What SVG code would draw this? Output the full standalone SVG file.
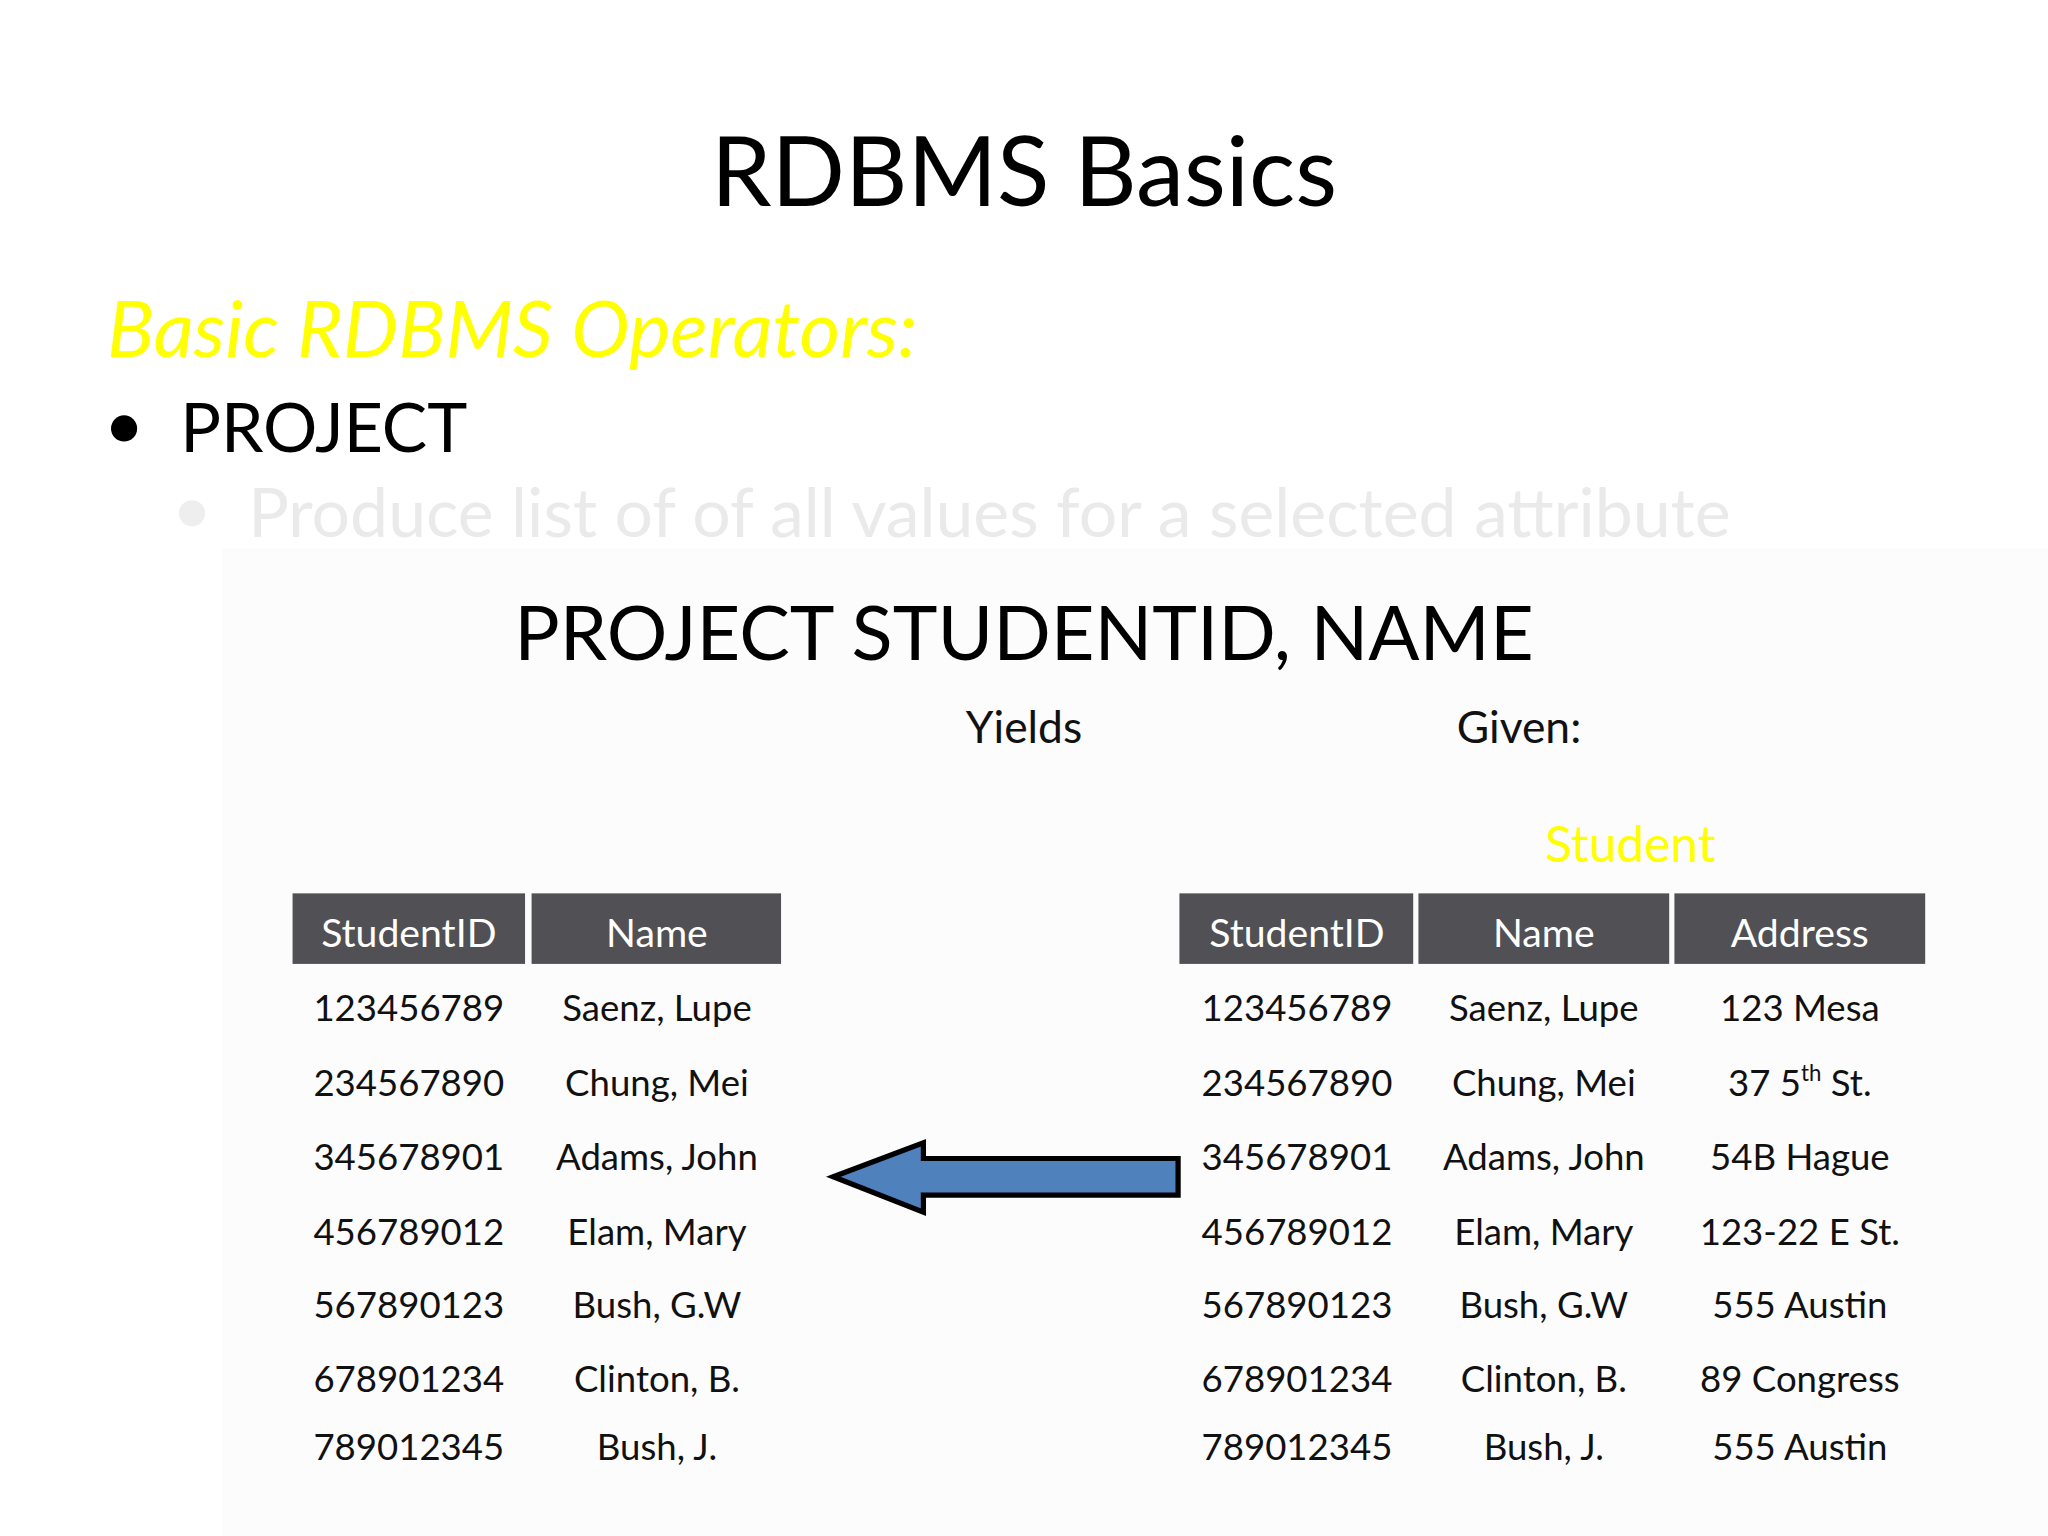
<svg xmlns="http://www.w3.org/2000/svg" width="2048" height="1536" viewBox="0 0 2048 1536">
<style>
text{font-family:Lato,"Open Sans","Liberation Sans",sans-serif}
.h{fill:#ffffff;font-size:30px;text-anchor:middle}
.c{fill:#111;font-size:28px;text-anchor:middle}
.hd{fill:#505055}
</style>
<rect width="2048" height="1536" fill="#fff"/>
<g transform="scale(1.3061)">
<rect x="170" y="420" width="1398" height="756" fill="#fcfcfc"/>
<g id="title"><text x="784" y="158" font-size="74" text-anchor="middle" fill="#000">RDBMS Basics</text></g>
<g id="subtitle"><text x="82" y="273" font-size="60" font-style="italic" fill="#ffff00">Basic RDBMS Operators:</text></g>
<g id="bullet1"><circle cx="95" cy="328" r="10" fill="#000"/><text x="138" y="346" font-size="52" fill="#000">PROJECT</text></g>
<g id="bullet2"><circle cx="147" cy="393" r="10" fill="#eee"/><text x="190" y="411" font-size="52" fill="#eaeaea">Produce list of of all values for a selected attribute</text></g>
<g id="query"><text x="784" y="505" font-size="58" text-anchor="middle" fill="#000">PROJECT STUDENTID, NAME</text></g>
<g id="yields"><text x="784" y="569" font-size="34" text-anchor="middle" fill="#111">Yields</text></g>
<g id="given"><text x="1163" y="569" font-size="34" text-anchor="middle" fill="#111">Given:</text></g>
<g id="student"><text x="1248" y="660" font-size="38" text-anchor="middle" fill="#ffff00">Student</text></g>
<g id="result-table">
<rect class="hd" x="224" y="684" width="178" height="54"/><rect class="hd" x="407" y="684" width="191" height="54"/>
<text class="h" x="313" y="725">StudentID</text><text class="h" x="503" y="725">Name</text>
<g class="c">
<text class="c" x="313" y="782">123456789</text><text class="c" x="503" y="782">Saenz, Lupe</text>
<text class="c" x="313" y="839">234567890</text><text class="c" x="503" y="839">Chung, Mei</text>
<text class="c" x="313" y="896">345678901</text><text class="c" x="503" y="896">Adams, John</text>
<text class="c" x="313" y="953">456789012</text><text class="c" x="503" y="953">Elam, Mary</text>
<text class="c" x="313" y="1009">567890123</text><text class="c" x="503" y="1009">Bush, G.W</text>
<text class="c" x="313" y="1066">678901234</text><text class="c" x="503" y="1066">Clinton, B.</text>
<text class="c" x="313" y="1118">789012345</text><text class="c" x="503" y="1118">Bush, J.</text>
</g></g>
<g id="student-table">
<rect class="hd" x="903" y="684" width="179" height="54"/><rect class="hd" x="1086" y="684" width="192" height="54"/><rect class="hd" x="1282" y="684" width="192" height="54"/>
<text class="h" x="993" y="725">StudentID</text><text class="h" x="1182" y="725">Name</text><text class="h" x="1378" y="725">Address</text>
<text class="c" x="993" y="782">123456789</text><text class="c" x="1182" y="782">Saenz, Lupe</text><text class="c" x="1378" y="782">123 Mesa</text>
<text class="c" x="993" y="839">234567890</text><text class="c" x="1182" y="839">Chung, Mei</text><text class="c" x="1378" y="839">37 5<tspan font-size="17" dy="-11">th</tspan><tspan dy="11"> St.</tspan></text>
<text class="c" x="993" y="896">345678901</text><text class="c" x="1182" y="896">Adams, John</text><text class="c" x="1378" y="896">54B Hague</text>
<text class="c" x="993" y="953">456789012</text><text class="c" x="1182" y="953">Elam, Mary</text><text class="c" x="1378" y="953">123-22 E St.</text>
<text class="c" x="993" y="1009">567890123</text><text class="c" x="1182" y="1009">Bush, G.W</text><text class="c" x="1378" y="1009">555 Austin</text>
<text class="c" x="993" y="1066">678901234</text><text class="c" x="1182" y="1066">Clinton, B.</text><text class="c" x="1378" y="1066">89 Congress</text>
<text class="c" x="993" y="1118">789012345</text><text class="c" x="1182" y="1118">Bush, J.</text><text class="c" x="1378" y="1118">555 Austin</text>
</g>
<g id="connectors">
<polygon points="638,901 707,875 707,887 902,887 902,915 707,915 707,928" fill="#4f81bd" stroke="#000" stroke-width="4" stroke-linejoin="miter"/>
</g>
</g>
</svg>
